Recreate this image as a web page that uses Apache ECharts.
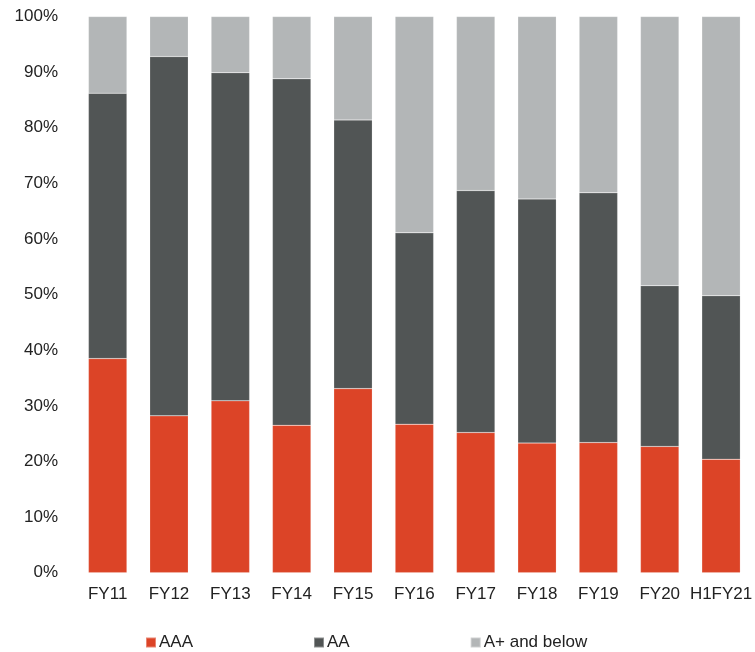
<!DOCTYPE html>
<html>
<head>
<meta charset="utf-8">
<script src="https://cdn.jsdelivr.net/npm/echarts@6/dist/echarts.min.js"></script>
<style>
  html, body { margin: 0; padding: 0; background: #fff; }
  #chart { width: 755px; height: 652px; }
</style>
</head>
<body>
<div id="chart"></div>
<script>
// Rating mix of the portfolio by fiscal year (% share)
const categories = ['FY11', 'FY12', 'FY13', 'FY14', 'FY15', 'FY16', 'FY17', 'FY18', 'FY19', 'FY20', 'H1FY21'];
const aaa      = [38.5, 28.2, 30.9, 26.5, 33.1, 26.7, 25.2, 23.3, 23.4, 22.7, 20.4];
const aa       = [47.7, 64.6, 59.0, 62.3, 48.3, 34.4, 43.5, 43.9, 44.9, 28.9, 29.4];
const aPlus    = [13.8,  7.2, 10.1, 11.2, 18.6, 38.9, 31.3, 32.8, 31.7, 48.4, 50.2];
const seriesNames = ['AAA', 'AA', 'A+ and below'];
const yTicks = [0, 10, 20, 30, 40, 50, 60, 70, 80, 90, 100];

const colors = ['#DC4427', '#515555', '#B3B6B7'];
const font = '"Liberation Sans", Arial, sans-serif';

const chart = echarts.init(document.getElementById('chart'), null, { renderer: 'canvas' });

const makeSeries = (name, data, color) => ({
  name,
  type: 'bar',
  stack: 'total',
  barWidth: 38.5,
  data,
  itemStyle: { color, borderColor: 'rgba(255,255,255,0.35)', borderWidth: 0.5 },
  emphasis: { disabled: true }
});

chart.setOption({
  animation: false,
  color: colors,
  textStyle: { fontFamily: font },
  grid: { left: 77, width: 680, top: 16.5, bottom: 79.3 },
  legend: {
    data: seriesNames,
    left: 140,
    top: 629,
    itemWidth: 10,
    itemHeight: 10,
    itemGap: 120,
    icon: 'rect',
    selectedMode: false,
    textStyle: { fontFamily: font, fontSize: 17, color: '#222', padding: [0, 0, 0, -2] }
  },
  xAxis: {
    type: 'category',
    data: categories,
    axisLine: { show: false },
    axisTick: { show: false },
    axisLabel: { fontFamily: font, fontSize: 17, color: '#222', margin: 13, interval: 0 }
  },
  yAxis: {
    type: 'value',
    min: yTicks[0],
    max: yTicks[yTicks.length - 1],
    interval: yTicks[1] - yTicks[0],
    splitLine: { show: false },
    axisLine: { show: false },
    axisTick: { show: false },
    axisLabel: { fontFamily: font, fontSize: 17, color: '#222', margin: 19, formatter: '{value}%' }
  },
  series: [
    makeSeries(seriesNames[0], aaa, colors[0]),
    makeSeries(seriesNames[1], aa, colors[1]),
    makeSeries(seriesNames[2], aPlus, colors[2])
  ]
});
</script>
</body>
</html>
